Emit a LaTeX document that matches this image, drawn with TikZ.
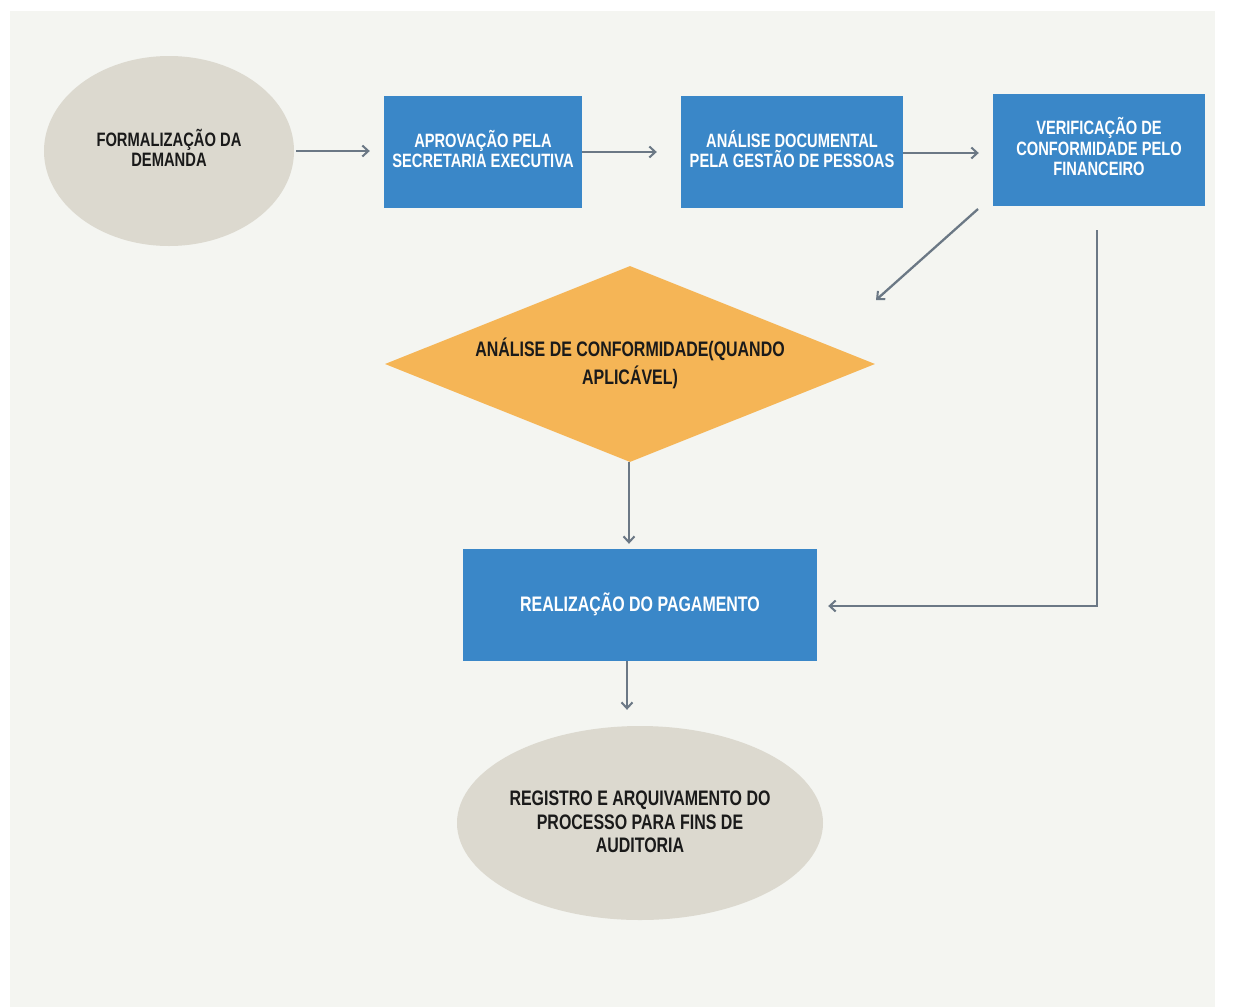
\documentclass[tikz,border=0pt]{standalone}
\usepackage{fontspec}
\newfontfamily\cond[FakeStretch=0.76]{Liberation Sans}
\usetikzlibrary{shapes.geometric,arrows.meta}
\definecolor{bgpanel}{HTML}{F4F5F1}
\definecolor{boxblue}{HTML}{3A87C8}
\definecolor{ovalgray}{HTML}{DCD9CF}
\definecolor{diamondorange}{HTML}{F5B556}
\definecolor{arrowgray}{HTML}{6B7885}
\definecolor{txtdark}{HTML}{1A1A1A}
\tikzset{
  x=1pt,y=-1pt,
  bluebox/.style={rectangle,fill=boxblue,inner sep=0pt,text=white,align=center,
    font=\cond\bfseries\fontsize{19.3}{20.5}\selectfont},
  oval/.style={ellipse,fill=ovalgray,inner sep=0pt,text=txtdark,align=center},
  flow/.style={draw=arrowgray,line width=2.3pt,-{Straight Barb[length=6pt,width=11pt,line width=2pt]}},
}
\begin{document}
\begin{tikzpicture}
\useasboundingbox (0,0) rectangle (1234,1007);
\fill[white] (0,0) rectangle (1234,1007);
\fill[bgpanel] (10,11) rectangle (1215,1007);

\node[oval,minimum width=250pt,minimum height=190pt] (f) at (169,151) {};
\node[text=txtdark,align=center,font=\cond\bfseries\fontsize{19.4}{20.5}\selectfont] (ft) at (169,148) {FORMALIZAÇÃO DA\\DEMANDA};
\node[bluebox,minimum width=198pt,minimum height=112pt] (a) at (483,152) {};
\node[text=white,align=center,font=\cond\bfseries\fontsize{19.3}{20.5}\selectfont] (at) at (483,149) {APROVAÇÃO PELA\\SECRETARIA EXECUTIVA};
\node[bluebox,minimum width=222pt,minimum height=112pt] (d) at (792,152) {};
\node[text=white,align=center,font=\cond\bfseries\fontsize{19.3}{20.5}\selectfont] (dt) at (792,149) {ANÁLISE DOCUMENTAL\\PELA GESTÃO DE PESSOAS};
\node[bluebox,minimum width=212pt,minimum height=112pt] (v) at (1099,150) {};
\node[text=white,align=center,font=\cond\bfseries\fontsize{19.3}{20.5}\selectfont] (vt) at (1099,147) {VERIFICAÇÃO DE\\CONFORMIDADE PELO\\FINANCEIRO};
\node[diamond,fill=diamondorange,inner sep=0pt,minimum width=490pt,minimum height=196pt] (c) at (630,364) {};
\node[text=txtdark,align=center,font=\cond\bfseries\fontsize{21}{28}\selectfont] (ct) at (630,363) {ANÁLISE DE CONFORMIDADE(QUANDO\\APLICÁVEL)};
\node[bluebox,minimum width=354pt,minimum height=112pt] (p) at (640,605) {};
\node[text=white,align=center,font=\cond\bfseries\fontsize{21}{22}\selectfont] (pt) at (640,604) {REALIZAÇÃO DO PAGAMENTO};
\node[oval,minimum width=366pt,minimum height=194pt] (r) at (640,823) {};
\node[text=txtdark,align=center,font=\cond\bfseries\fontsize{21}{23.5}\selectfont] (rt) at (640,822) {REGISTRO E ARQUIVAMENTO DO\\PROCESSO PARA FINS DE\\AUDITORIA};

\coordinate (diagS) at (978,209);
\coordinate (diagE) at (876,300);
\coordinate (rtop) at (1097,230);
\coordinate (rcorner) at (1097,606);

\draw[flow,shorten <=2pt,shorten >=14pt] (f.east) -- (f.east -| a.west);
\draw[flow,shorten >=24pt] (a.east |- 0,152) -- (d.west |- 0,152);
\draw[flow,shorten >=14pt] (d.east |- 0,153) -- (v.west |- 0,153);
\draw[flow] (diagS) -- (diagE);
\draw[flow,shorten >=5pt] (c.south -| 629,0) -- (p.north -| 629,0);
\draw[flow,shorten >=11pt] (rtop) -- (rcorner) -- (rcorner -| p.east);
\draw[flow,shorten >=16pt] (p.south -| 627,0) -- (r.north -| 627,0);
\end{tikzpicture}
\end{document}
